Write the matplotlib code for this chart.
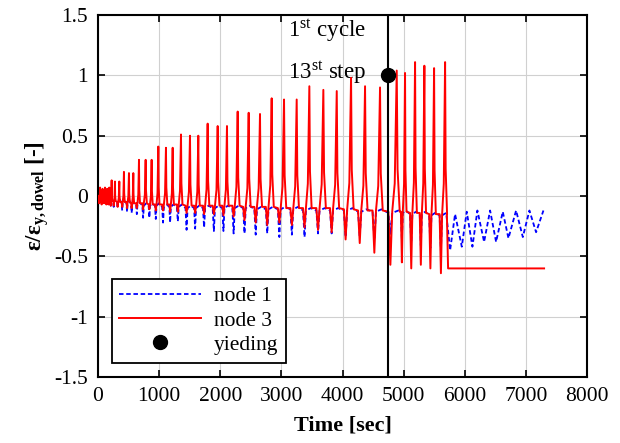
import matplotlib
matplotlib.use("Agg")
import matplotlib.pyplot as plt

# ---- data ----
peak_t = [35, 75, 115, 150, 185, 224, 278, 349, 425, 507, 578, 671, 780, 878, 987,
          1112, 1222, 1358, 1505, 1641, 1794, 1958, 2110, 2285, 2465, 2650, 2841,
          3043, 3250, 3457, 3686, 3905, 4139, 4368, 4613, 4886, 5022, 5186, 5338,
          5497, 5677]
node3_peak = [0.07, 0.06, 0.07, 0.06, 0.07, 0.13, 0.12, 0.12, 0.20, 0.19, 0.19, 0.30,
              0.30, 0.30, 0.41, 0.40, 0.40, 0.51, 0.50, 0.50, 0.60, 0.58, 0.58, 0.70,
              0.69, 0.68, 0.81, 0.80, 0.80, 0.91, 0.88, 0.87, 0.98, 0.91, 0.90, 1.04,
              1.02, 1.11, 1.08, 1.06, 1.11]
node3_trough = [-0.06, -0.07, -0.06, -0.07, -0.07, -0.08, -0.08, -0.09, -0.09, -0.10,
                -0.10, -0.10, -0.11, -0.11, -0.12, -0.12, -0.13, -0.13, -0.14, -0.14,
                -0.15, -0.15, -0.16, -0.17, -0.20, -0.22, -0.24, -0.22, -0.24, -0.26,
                -0.28, -0.30, -0.36, -0.39, -0.47, -0.57, -0.55, -0.60, -0.57, -0.60,
                -0.64]
node3_base = [-0.01, -0.02, -0.02, -0.03, -0.03, -0.04, -0.04, -0.05, -0.05, -0.05,
              -0.06, -0.06, -0.06, -0.07, -0.07, -0.07, -0.07, -0.07, -0.08, -0.08,
              -0.08, -0.08, -0.08, -0.08, -0.09, -0.09, -0.09, -0.10, -0.10, -0.10,
              -0.10, -0.10, -0.11, -0.12, -0.12, -0.13, -0.13, -0.14, -0.14, -0.15,
              -0.15]
node3_final_t = [5726, 7296]
node3_final = [-0.60, -0.60]

node1_dip = [-0.03, -0.04, -0.04, -0.05, -0.05, -0.08, -0.09, -0.10, -0.12, -0.13,
             -0.14, -0.15, -0.18, -0.18, -0.19, -0.22, -0.22, -0.21, -0.28, -0.27,
             -0.26, -0.29, -0.29, -0.31, -0.31, -0.32, -0.31, -0.34, -0.32, -0.34,
             -0.31, -0.31, -0.34, -0.34, -0.36, -0.32, -0.36, -0.39, -0.41, -0.43,
             -0.45]
node1_base = [-0.01, -0.02, -0.02, -0.03, -0.03, -0.04, -0.05, -0.05, -0.06, -0.06,
              -0.07, -0.07, -0.08, -0.08, -0.08, -0.09, -0.09, -0.09, -0.10, -0.10,
              -0.10, -0.10, -0.10, -0.10, -0.10, -0.11, -0.11, -0.11, -0.11, -0.12,
              -0.12, -0.12, -0.12, -0.13, -0.13, -0.14, -0.14, -0.15, -0.15, -0.16,
              -0.16]
node1_post_t = [5759, 5840, 5950, 6031, 6124, 6205, 6315, 6413, 6511, 6620, 6713,
                6838, 6948, 7056, 7165, 7285]
node1_post = [-0.45, -0.15, -0.42, -0.13, -0.42, -0.12, -0.38, -0.12, -0.38, -0.13,
              -0.35, -0.12, -0.34, -0.12, -0.30, -0.12]

yield_t = [4740]
yield_v = [1.0]

x_ticks = [0, 1000, 2000, 3000, 4000, 5000, 6000, 7000, 8000]
y_ticks = [-1.5, -1, -0.5, 0, 0.5, 1, 1.5]

# ---- build polylines from the read vertices ----
t3, v3, t1, v1 = [0], [0.0], [0], [0.0]
for i, tp in enumerate(peak_t):
    P = (peak_t[1] - peak_t[0]) if i == 0 else (tp - peak_t[i - 1])
    b, pk = node3_base[i], node3_peak[i]
    t3 += [tp - 0.5 * P, tp - 0.38 * P, tp - 0.27 * P, tp - 0.12 * P, tp, tp + 0.05 * P,
           tp + 0.18 * P]
    v3 += [b, node3_trough[i], b, b + 0.2 * (pk - b), pk, b + 0.3 * (pk - b), b]
    t1 += [tp - 0.5 * P, tp - 0.38 * P, tp - 0.27 * P, tp + 0.1 * P]
    v1 += [node1_base[i], node1_dip[i], node1_base[i], node1_base[i] + 0.02]
t3 += [node3_final_t[0] - 20] + node3_final_t
v3 += [node3_base[-1]] + node3_final
t1 += node1_post_t
v1 += node1_post

plt.rcParams['font.family'] = ['Liberation Serif', 'DejaVu Serif']
plt.rcParams['mathtext.fontset'] = 'custom'
plt.rcParams['mathtext.rm'] = 'Liberation Serif'
plt.rcParams['mathtext.it'] = 'Liberation Serif:italic'
plt.rcParams['mathtext.bf'] = 'Liberation Serif:bold'

fig = plt.figure(figsize=(6.2, 4.43), dpi=100)
ax = fig.add_axes([0.158, 0.149, 0.789, 0.817])

ax.plot(t1, v1, color='#0000ff', lw=1.3, dashes=(2.5, 1.5), label='node 1', zorder=3)
ax.plot(t3, v3, color='#ff0000', lw=1.4, label='node 3', zorder=4)
ax.axvline(yield_t[0], color='black', lw=1.5, zorder=5)
ax.plot(yield_t, yield_v, 'o', color='black', ms=10, label='yieding', zorder=6)

ax.text(3100, 1.37, r'1$^{\mathrm{st}}$ cycle', fontsize=16.5, va='center', ha='left')
ax.text(3100, 1.02, r'13$^{\mathrm{st}}$ step', fontsize=16.5, va='center', ha='left')

ax.set_xlim(0, 8000)
ax.set_ylim(-1.5, 1.5)
ax.set_xticks(x_ticks)
ax.set_yticks(y_ticks)
ax.set_xticklabels([str(v) for v in x_ticks])
ax.set_yticklabels(['-1.5', '-1', '-0.5', '0', '0.5', '1', '1.5'])
ax.tick_params(direction='in', top=True, right=True, labelsize=15.5, length=5, width=1.2, pad=7)
ax.grid(True, color='#d0d0d0', lw=0.8)
for s in ax.spines.values():
    s.set_linewidth(1.5)

ax.set_xlabel('Time [sec]', fontsize=16, fontweight='bold', labelpad=7)
ax.set_ylabel(r'ε/ε$_{\mathbf{y,dowel}}$ [-]', fontsize=16.5, fontweight='bold', labelpad=2)

leg = ax.legend(loc='lower left', bbox_to_anchor=(0.028, 0.04), fontsize=15.5,
                fancybox=False, framealpha=1, edgecolor='black', handlelength=3.8,
                borderpad=0.35, labelspacing=0.2, handletextpad=0.6, borderaxespad=0)
leg.get_frame().set_linewidth(1.3)

fig.savefig('out.png', dpi=100)
